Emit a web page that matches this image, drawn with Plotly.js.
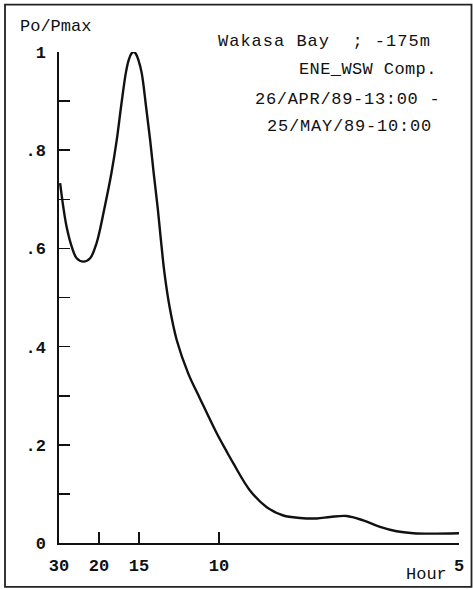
<!DOCTYPE html>
<html>
<head>
<meta charset="utf-8">
<script src="https://cdn.plot.ly/plotly-3.0.1.min.js"></script>
<style>
html,body{margin:0;padding:0;background:#fff;}
#chart{width:473px;height:589px;}
</style>
</head>
<body>
<div id="chart"></div>
<script>
// Frequency (cycles per hour); the axis is linear in frequency
var freq = [0.0338,0.0351,0.0365,0.0386,0.0407,0.0435,0.0463,0.0490,0.0524,0.0552,0.0574,0.0592,0.0612,0.0624,0.0634,0.0644,0.0654,0.0664,0.0678,0.0696,0.0713,0.0728,0.0744,0.0758,0.0773,0.0794,0.0824,0.0872,0.0921,0.0990,0.1029,0.1060,0.1129,0.1199,0.1268,0.1338,0.1407,0.1463,0.1532,0.1601,0.1671,0.1740,0.1810,0.1879,0.2000];
var power = [0.733,0.685,0.644,0.604,0.580,0.573,0.580,0.611,0.685,0.754,0.821,0.889,0.958,0.984,0.996,1.000,0.996,0.984,0.957,0.889,0.821,0.753,0.685,0.617,0.549,0.481,0.413,0.345,0.294,0.224,0.189,0.162,0.107,0.073,0.056,0.051,0.050,0.053,0.055,0.046,0.033,0.024,0.020,0.019,0.020];

var periodTicks = [30, 20, 15, 10, 5];              // hours
var periodLabels = ['30', '20', '15', '10', '5'];
var yTicks = [0, 0.2, 0.4, 0.6, 0.8, 1];
var yLabels = ['0', '.2', '.4', '.6', '.8', '1'];
var headerLines = ['Wakasa Bay  ; -175m', 'ENE_WSW Comp.', '26/APR/89-13:00 -', '25/MAY/89-10:00'];

var tickFreq = periodTicks.map(function(p){ return 1 / p; });

var FONT = 'Liberation Mono, DejaVu Sans Mono, monospace';

var L = 59, R = 14, T = 52.3, B = 46.3;
var W = 473 - L - R, H = 589 - T - B;
function px(x){ return (x - L) / W; }
function py(y){ return (589 - B - y) / H; }

var trace = {
  x: freq, y: power, type: 'scatter', mode: 'lines',
  line: {color: '#111', width: 2.4, shape: 'spline', smoothing: 1},
  cliponaxis: false, hoverinfo: 'skip'
};

var annFont = {family: FONT, size: 17, color: '#111'};
var annotations = [
  {text: headerLines[0], x: px(216), y: py(41.7)},
  {text: headerLines[1], x: px(296.5), y: py(70)},
  {text: headerLines[2], x: px(253), y: py(99.3)},
  {text: headerLines[3], x: px(264.5), y: py(126.7)},
  {text: 'Po/Pmax', x: px(18), y: py(26.7)}
].map(function(a){
  return {text: a.text, x: a.x, y: a.y, xref: 'paper', yref: 'paper', align: 'left',
          xanchor: 'left', yanchor: 'middle', showarrow: false, font: annFont};
});
annotations.push({text: 'Hour', x: px(426.7), y: py(573.7), xref: 'paper', yref: 'paper',
  xanchor: 'center', yanchor: 'middle', showarrow: false, font: annFont});

var layout = {
  width: 473, height: 589,
  margin: {l: L, r: R, t: T, b: B, pad: 0},
  paper_bgcolor: '#fff', plot_bgcolor: '#fff',
  showlegend: false,
  xaxis: {
    range: [1/30, 1/5], showgrid: false, zeroline: false,
    showline: true, linecolor: '#111', linewidth: 1.6,
    tickmode: 'array', tickvals: tickFreq, ticktext: periodLabels,
    ticks: 'inside', ticklen: 11, tickwidth: 1.6, tickcolor: '#111',
    tickfont: {family: FONT, size: 17, color: '#111', weight: 'bold'},
    ticklabelstandoff: 6
  },
  yaxis: {
    range: [0, 1], showgrid: false, zeroline: false,
    showline: true, linecolor: '#111', linewidth: 1.6,
    tickmode: 'array', tickvals: yTicks, ticktext: yLabels,
    ticks: 'inside', ticklen: 11, tickwidth: 1.6, tickcolor: '#111',
    minor: {dtick: 0.1, ticks: 'inside', ticklen: 11, tickwidth: 1.6, tickcolor: '#111', showgrid: false},
    tickfont: {family: FONT, size: 17, color: '#111', weight: 'bold'},
    ticklabelstandoff: 8
  },
  shapes: [{
    type: 'rect', xref: 'paper', yref: 'paper',
    x0: px(5), x1: px(471.5), y0: py(586.5), y1: py(5),
    line: {color: '#222', width: 1.8}, layer: 'above'
  }],
  annotations: annotations
};

var spacing = [1, 0.4, 0.7, 0.8];

Plotly.newPlot('chart', [trace], layout, {displayModeBar: false, staticPlot: true}).then(function(gd){
  var texts = gd.querySelectorAll('.annotation-text');
  texts.forEach(function(t){
    var i = headerLines.indexOf(t.textContent);
    if (i >= 0) t.style.letterSpacing = spacing[i] + 'px';
  });
});
</script>
</body>
</html>
